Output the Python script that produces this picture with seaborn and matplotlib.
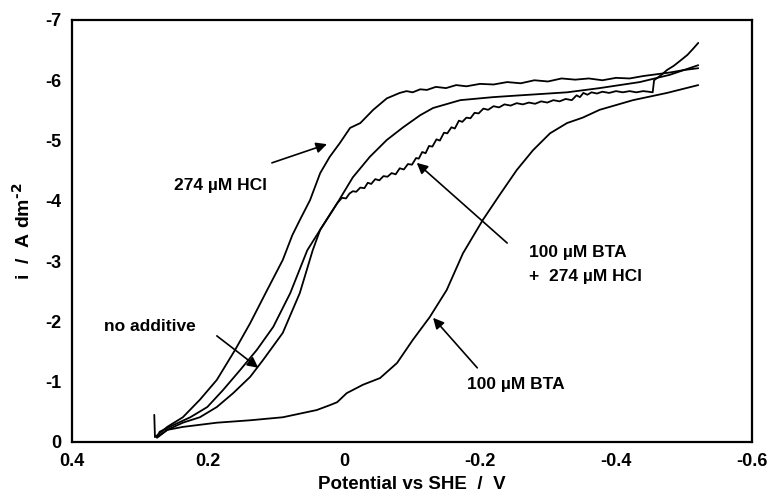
import numpy as np
import pandas as pd
import matplotlib
matplotlib.use("Agg")
import matplotlib.pyplot as plt
import seaborn as sns

# potential (V vs SHE) and current density (A dm^-2)
hcl_v = [0.279, 0.278, 0.260, 0.237, 0.212, 0.187, 0.160, 0.138, 0.113, 0.090,
         0.076, 0.065, 0.050, 0.035, 0.021, 0.006, -0.009, -0.024, -0.043, -0.063,
         -0.082, -0.092, -0.101, -0.112, -0.122, -0.135, -0.150, -0.165, -0.180, -0.200,
         -0.220, -0.240, -0.260, -0.280, -0.300, -0.320, -0.340, -0.360, -0.380, -0.400,
         -0.420, -0.440, -0.460, -0.480, -0.500, -0.521]
hcl_i = [-0.45, -0.08, -0.25, -0.41, -0.70, -1.03, -1.53, -1.97, -2.52, -3.02,
         -3.43, -3.68, -4.01, -4.46, -4.73, -4.96, -5.21, -5.29, -5.51, -5.70,
         -5.79, -5.82, -5.80, -5.85, -5.84, -5.89, -5.87, -5.92, -5.90, -5.94,
         -5.93, -5.97, -5.95, -6.00, -5.98, -6.03, -6.01, -6.03, -6.00, -6.04,
         -6.03, -6.07, -6.10, -6.13, -6.17, -6.20]

none_v = [0.275, 0.260, 0.237, 0.212, 0.187, 0.163, 0.138, 0.119, 0.090, 0.065,
          0.046, 0.035, 0.010, -0.013, -0.038, -0.063, -0.087, -0.112, -0.131, -0.171,
          -0.219, -0.259, -0.328, -0.376, -0.435, -0.479, -0.521]
none_i = [-0.08, -0.20, -0.32, -0.41, -0.58, -0.81, -1.08, -1.36, -1.81, -2.47,
          -3.18, -3.52, -3.96, -4.39, -4.73, -5.01, -5.22, -5.42, -5.54, -5.67,
          -5.72, -5.75, -5.80, -5.87, -5.97, -6.09, -6.25]

mix_v = [0.275, 0.271, 0.251, 0.226, 0.201, 0.178, 0.153, 0.128, 0.104, 0.079,
         0.054, 0.035, 0.010, 0.003, -0.003, -0.008, -0.013, -0.018, -0.024, -0.030,
         -0.035, -0.040, -0.046, -0.052, -0.058, -0.064, -0.070, -0.076, -0.082, -0.088,
         -0.094, -0.100, -0.106, -0.110, -0.115, -0.120, -0.125, -0.130, -0.136, -0.141,
         -0.147, -0.152, -0.158, -0.163, -0.169, -0.174, -0.180, -0.186, -0.192, -0.198,
         -0.205, -0.212, -0.220, -0.228, -0.236, -0.245, -0.254, -0.263, -0.272, -0.281,
         -0.290, -0.299, -0.308, -0.317, -0.326, -0.335, -0.342, -0.347, -0.352, -0.358,
         -0.364, -0.372, -0.380, -0.390, -0.400, -0.410, -0.420, -0.430, -0.440, -0.448,
         -0.454, -0.456, -0.462, -0.468, -0.475, -0.485, -0.494, -0.505, -0.514, -0.521]
mix_i = [-0.08, -0.17, -0.28, -0.41, -0.58, -0.86, -1.19, -1.53, -1.91, -2.47,
         -3.18, -3.52, -3.96, -4.05, -4.04, -4.12, -4.16, -4.15, -4.22, -4.21,
         -4.30, -4.28, -4.36, -4.34, -4.41, -4.40, -4.46, -4.44, -4.54, -4.52,
         -4.61, -4.60, -4.71, -4.70, -4.81, -4.79, -4.91, -4.90, -5.02, -5.00,
         -5.13, -5.12, -5.22, -5.20, -5.33, -5.31, -5.38, -5.37, -5.46, -5.45,
         -5.53, -5.51, -5.57, -5.55, -5.60, -5.58, -5.62, -5.60, -5.63, -5.61,
         -5.65, -5.63, -5.67, -5.65, -5.69, -5.67, -5.75, -5.72, -5.79, -5.76,
         -5.80, -5.78, -5.81, -5.79, -5.82, -5.80, -5.82, -5.80, -5.82, -5.81,
         -5.80, -6.00, -6.05, -6.10, -6.17, -6.24, -6.32, -6.42, -6.53, -6.62]

bta_v = [0.275, 0.260, 0.237, 0.187, 0.138, 0.090, 0.040, 0.021, 0.010, -0.004,
         -0.028, -0.053, -0.078, -0.101, -0.126, -0.151, -0.175, -0.204, -0.229, -0.254,
         -0.278, -0.303, -0.328, -0.351, -0.376, -0.425, -0.475, -0.521]
bta_i = [-0.07, -0.20, -0.25, -0.32, -0.36, -0.41, -0.53, -0.61, -0.66, -0.81,
         -0.95, -1.06, -1.31, -1.69, -2.07, -2.52, -3.13, -3.68, -4.10, -4.51,
         -4.84, -5.12, -5.29, -5.38, -5.51, -5.67, -5.79, -5.92]

curves = [("274 µM HCl", hcl_v, hcl_i),
          ("no additive", none_v, none_i),
          ("100 µM BTA + 274 µM HCl", mix_v, mix_i),
          ("100 µM BTA", bta_v, bta_i)]

sns.set_style("white")
plt.rcParams["font.family"] = ["Liberation Sans", "DejaVu Sans"]
plt.rcParams["font.weight"] = "bold"
plt.rcParams["axes.unicode_minus"] = False
plt.rcParams["text.color"] = "black"
plt.rcParams["axes.labelcolor"] = "black"
plt.rcParams["xtick.color"] = "black"
plt.rcParams["ytick.color"] = "black"
plt.rcParams["mathtext.default"] = "bf"

fig = plt.figure(figsize=(7.7, 4.97), dpi=100)
ax = fig.add_axes([0.0935, 0.1107, 0.8831, 0.8491])

for name, v, i in curves:
    df = pd.DataFrame({"E": v, "i": i})
    sns.lineplot(data=df, x="E", y="i", sort=False, estimator=None,
                 color="black", lw=1.3, ax=ax)

ax.set_xlim(0.4, -0.6)
ax.set_ylim(0, -7)
ax.set_xticks([0.4, 0.2, 0, -0.2, -0.4, -0.6])
ax.set_xticklabels(["0.4", "0.2", "0", "-0.2", "-0.4", "-0.6"])
ax.set_yticks(range(0, -8, -1))
ax.set_yticklabels([str(k) for k in range(0, -8, -1)])
ax.tick_params(direction="in", length=5, width=1.5, labelsize=13)
ax.tick_params(axis="x", pad=8)
ax.tick_params(axis="y", pad=8)
for lab in ax.get_xticklabels() + ax.get_yticklabels():
    lab.set_fontweight("bold")
for sp in ax.spines.values():
    sp.set_linewidth(1.6)
    sp.set_color("black")

ax.set_xlabel("Potential vs SHE  /  V", fontsize=13.5, fontweight="bold", labelpad=4)
ax.set_ylabel("i  /  A dm$^{\\text{-2}}$", fontsize=14, fontweight="bold", labelpad=8)

arrow = dict(arrowstyle="-|>", color="black", lw=1.2, mutation_scale=16,
             shrinkA=0, shrinkB=0)
fs = 12.5
ax.annotate("", xy=(0.025, -4.94), xytext=(0.106, -4.63), arrowprops=arrow)
ax.text(0.182, -4.26, "274 µM HCl", ha="center", va="center", fontsize=fs, fontweight="bold")

ax.annotate("", xy=(0.126, -1.23), xytext=(0.187, -1.76), arrowprops=arrow)
ax.text(0.285, -1.92, "no additive", ha="center", va="center", fontsize=fs, fontweight="bold")

ax.annotate("", xy=(-0.107, -4.63), xytext=(-0.240, -3.30), arrowprops=arrow)
ax.text(-0.272, -3.15, "100 µM BTA", ha="left", va="center", fontsize=fs, fontweight="bold")
ax.text(-0.272, -2.74, "+  274 µM HCl", ha="left", va="center", fontsize=fs, fontweight="bold")

ax.annotate("", xy=(-0.131, -2.06), xytext=(-0.196, -1.23), arrowprops=arrow)
ax.text(-0.181, -0.95, "100 µM BTA", ha="left", va="center", fontsize=fs, fontweight="bold")

fig.savefig("out.png", dpi=100)
